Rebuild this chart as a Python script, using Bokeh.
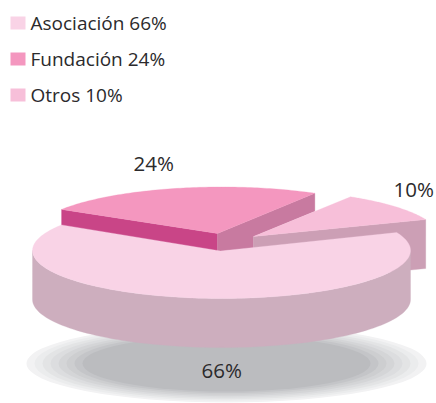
import numpy as np
from bokeh.plotting import figure
from bokeh.models import Range1d
from bokeh.core.properties import value
from bokeh.embed import file_html
from bokeh.resources import INLINE

categories = ["Asociación", "Fundación", "Otros"]
shares = [66, 24, 10]
pct_labels = ["66%", "24%", "10%"]

W, H = 436, 403
FONT = value("Open Sans")
TEXT = "#2b2a2c"
top_col = ["#f9d3e6", "#f497bf", "#f7bfd9"]
shadow_cols = ["#f2f2f3", "#ebeced", "#e3e4e5", "#dcdddf", "#d4d5d7", "#cdced0", "#c4c5c8", "#bbbcbf"]
RX, RY = 189, 48

p = figure(width=W, height=H, x_range=Range1d(0, W), y_range=Range1d(H, 0),
           x_axis_type=None, y_axis_type=None, toolbar_location=None,
           output_backend="svg", min_border=0, outline_line_color=None)
p.grid.visible = False
p.styles = {"position": "absolute", "left": "0", "top": "0"}


def arc(cx, cy, t0, t1, n=90):
    t = np.radians(np.linspace(t0, t1, n))
    return cx + RX * np.cos(t), cy - RY * np.sin(t)


def fill(xs, ys, color):
    p.patch(list(xs), list(ys), fill_color=color, line_color=color, line_width=0.3)


# shadow
for i, c in enumerate(shadow_cols):
    a = 200 - 8 * i
    p.ellipse([226], [363], width=[2 * a], height=[2 * a * 28 / 144], fill_color=c, line_color=None)

deg = [s * 3.6 for s in shares]
start_main = 22.0
end_main = start_main - deg[0] + 3.4   # clockwise through the front
fund_t0 = end_main + 360
fund_t1 = fund_t0 - deg[1] - 1.0
otros_t0 = 58.0
otros_t1 = otros_t0 - deg[2]

# Fundación
cx, cy, d = 221, 234.5, 18
ax, ay = arc(cx, cy, fund_t1, fund_t0)
fill([ax[-1], 217, 217, ax[-1]], [ay[-1], 233, 233 + d, ay[-1] + d], "#c94587")
fill([217, ax[0], ax[0], 253, 253, 217], [233, ay[0], ay[0] + d, 236, 248, 233 + d], "#c87aa0")
fill(np.r_[217, ax], np.r_[233, ay], top_col[1])

# Otros
cx, cy, d = 250, 237, 49
ax, ay = arc(cx, cy, otros_t1, otros_t0)
fill([253, ax[0], ax[0], 253], [236, ay[0], ay[0] + d, 236 + d], "#cc9fb5")
fill(np.r_[253, ax], np.r_[236, ay], top_col[2])

# Asociación
cx, cy, d = 221, 250, 49
wx, wy = arc(cx, cy, 180, 360)
fill(np.r_[wx, wx[::-1]], np.r_[wy, wy[::-1] + d], "#cdaebe")
ax, ay = arc(cx, cy, start_main, end_main, 200)
fill(np.r_[220, ax], np.r_[250.5, ay], top_col[0])

# percentage labels
p.text([133, 393, 201], [162, 188, 369], text=[pct_labels[1], pct_labels[2], pct_labels[0]],
       text_font=FONT, text_font_size="20.5px", text_color=TEXT, text_baseline="middle", text_align="left")

# legend
for i, (c, s, col) in enumerate(zip(categories, pct_labels, top_col)):
    y = 22.5 + 36 * i
    p.rect([17.5], [y], width=[15], height=[13], fill_color=col, line_color=None)
    p.text([30], [y], text=[f"{c} {s}"], text_font=FONT, text_font_size="19px",
           text_color=TEXT, text_baseline="middle", text_align="left")

open("out.html", "w").write(file_html(p, INLINE))
